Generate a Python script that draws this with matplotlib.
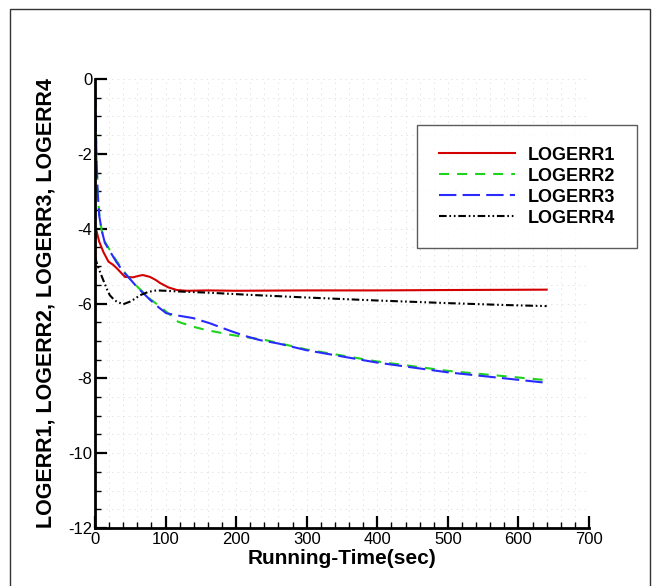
import matplotlib
matplotlib.use("Agg")
import matplotlib.pyplot as plt
from matplotlib.ticker import MultipleLocator
from matplotlib.patches import Rectangle

plt.rcParams['font.family'] = ['Liberation Sans', 'DejaVu Sans']
plt.rcParams['lines.scale_dashes'] = False
plt.rcParams['axes.unicode_minus'] = False

# ---- data ----
t1 = [0, 0.5, 2, 6, 11.8, 19, 26, 31, 42.5, 54, 62, 68, 78, 86, 92, 104, 116, 130, 160, 200, 300, 400, 500, 640]
logerr1 = [-6.6, -4.3, -4.05, -4.35, -4.62, -4.88, -4.97, -5.06, -5.29, -5.30, -5.26, -5.24, -5.29, -5.37, -5.45, -5.57, -5.64, -5.66, -5.65, -5.66, -5.65, -5.65, -5.64, -5.63]

t2 = [0, 1, 2, 3.8, 6, 9.4, 14, 21, 30, 40, 47, 60, 78, 90, 101, 118, 139, 160, 172, 190, 210, 240, 300, 400, 500, 640]
logerr2 = [-0.5, -1.2, -2.0, -3.05, -3.6, -4.04, -4.35, -4.57, -4.85, -5.12, -5.29, -5.55, -5.88, -6.05, -6.22, -6.49, -6.62, -6.72, -6.76, -6.83, -6.89, -6.97, -7.23, -7.55, -7.80, -8.05]

t3 = [0, 1, 2, 3.8, 6, 9.4, 14, 21, 30, 40, 47, 60, 78, 90, 101, 120, 139, 163, 180, 196, 215, 234, 260, 300, 400, 500, 640]
logerr3 = [-0.3, -1.1, -2.0, -3.05, -3.65, -4.04, -4.38, -4.6, -4.88, -5.15, -5.29, -5.57, -5.9, -6.1, -6.26, -6.33, -6.39, -6.53, -6.65, -6.76, -6.88, -6.98, -7.07, -7.25, -7.58, -7.84, -8.12]

t4 = [0, 3, 7, 11.8, 17, 21, 26, 30.7, 40, 49.6, 56, 63.7, 75.5, 87, 100, 120, 160, 220, 300, 400, 500, 580, 640]
logerr4 = [-4.75, -4.95, -5.15, -5.38, -5.62, -5.78, -5.88, -5.95, -6.02, -5.95, -5.88, -5.78, -5.69, -5.65, -5.66, -5.68, -5.71, -5.77, -5.84, -5.92, -5.99, -6.04, -6.07]

labels = ['LOGERR1', 'LOGERR2', 'LOGERR3', 'LOGERR4']
x_label = 'Running-Time(sec)'
y_label = 'LOGERR1, LOGERR2, LOGERR3, LOGERR4'

W, H = 653, 586
fig = plt.figure(figsize=(W / 100, H / 100), dpi=100)
ax = fig.add_axes([95 / W, 1 - 528 / H, (589 - 95) / W, (528 - 79) / H])

lw = 1.5
ax.plot(t1, logerr1, color='#d40000', lw=lw, label=labels[0])
ax.plot(t2, logerr2, color='#1ed21e', lw=lw, ls=(0, (7.2, 5.8)), label=labels[1])
ax.plot(t3, logerr3, color='#2a2aff', lw=lw, ls=(0, (12.5, 4.5)), label=labels[2])
ax.plot(t4, logerr4, color='black', lw=lw, ls=(0, (5.5, 2.0, 1.2, 2.0, 1.2, 2.0)), label=labels[3])

ax.set_xlim(0, 700)
ax.set_ylim(-12, 0)
ax.xaxis.set_major_locator(MultipleLocator(100))
ax.xaxis.set_minor_locator(MultipleLocator(20))
ax.yaxis.set_major_locator(MultipleLocator(2))
ax.yaxis.set_minor_locator(MultipleLocator(0.5))

ax.grid(True, which='both', color='#dedede', lw=0.6, ls=(0, (1, 3)))
ax.set_axisbelow(True)

for s in ['top', 'right']:
    ax.spines[s].set_visible(False)
for s in ['left', 'bottom']:
    ax.spines[s].set_linewidth(2.0)
    ax.spines[s].set_color('black')

ax.tick_params(which='major', direction='in', length=8.5, width=1.6, labelsize=12, pad=2)
ax.tick_params(which='minor', direction='in', length=4.5, width=1.0)
ax.tick_params(axis='x', pad=3)

ax.set_xlabel(x_label, fontsize=15, fontweight='bold', labelpad=1)
ax.set_ylabel(y_label, fontsize=15.5, fontweight='bold', labelpad=8)

leg = fig.legend(loc='upper left', bbox_to_anchor=(417 / W, 1 - 125 / H),
                 frameon=True, fancybox=False, shadow=False,
                 prop={'weight': 'bold', 'size': 13},
                 handlelength=4.2, handletextpad=0.75, borderpad=1.2,
                 labelspacing=0.22, borderaxespad=0)
leg.get_frame().set_edgecolor('#333333')
leg.get_frame().set_linewidth(1.0)

fig.patches.append(Rectangle((10 / W, -0.1), (650 - 10) / W, 1.1 - 9 / H,
                             transform=fig.transFigure, fill=False,
                             edgecolor='#333333', lw=1.0))

fig.savefig('out.png', dpi=100)
